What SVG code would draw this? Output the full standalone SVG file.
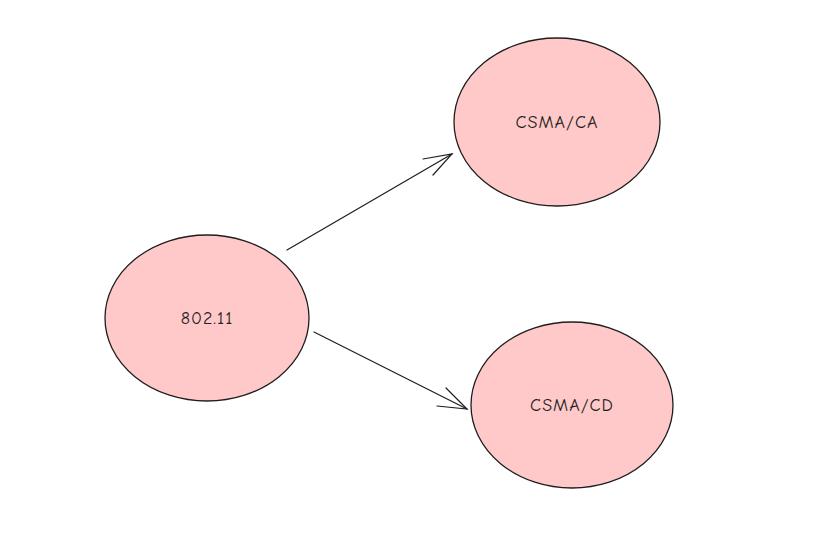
<svg xmlns="http://www.w3.org/2000/svg" width="828" height="533" viewBox="0 0 828 533">
<style>
.node ellipse{fill:#ffc9c9;stroke:#1e1e1e;stroke-width:1.3}
.node text{font-family:"Comic Neue","Liberation Sans",sans-serif;font-size:18px;fill:#1e1e1e;text-anchor:middle;dominant-baseline:central;letter-spacing:1px}
.edge path{fill:none;stroke:#1e1e1e;stroke-width:1.2;stroke-linecap:round}
</style>
<rect width="828" height="533" fill="#ffffff"/>
<g id="edges" class="edge">
<path d="M287 250 L452 154"/>
<path d="M423 159 L452 154 L433 175"/>
<path d="M314 332 L467 409"/>
<path d="M446 388 L467 409 L437 406"/>
</g>
<g id="node-80211" class="node">
<ellipse cx="207" cy="318" rx="102" ry="83"/>
<text x="207" y="318">802.11</text>
</g>
<g id="node-csmaca" class="node">
<ellipse cx="557" cy="122" rx="103" ry="84"/>
<text x="557" y="122">CSMA/CA</text>
</g>
<g id="node-csmacd" class="node">
<ellipse cx="572" cy="405" rx="101" ry="83"/>
<text x="572" y="405">CSMA/CD</text>
</g>
</svg>
